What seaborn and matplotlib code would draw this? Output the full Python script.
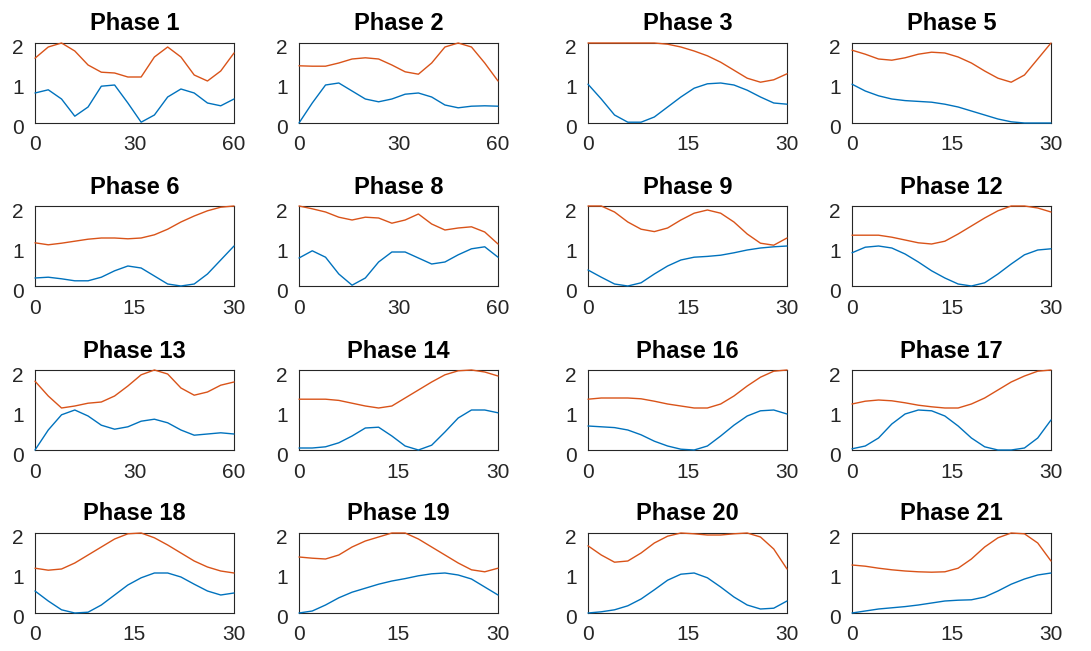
import numpy as np
import pandas as pd
import matplotlib
matplotlib.use("Agg")
import matplotlib.pyplot as plt
import matplotlib.transforms as mtransforms
import seaborn as sns

titles = ["Phase 1", "Phase 2", "Phase 3", "Phase 5",
          "Phase 6", "Phase 8", "Phase 9", "Phase 12",
          "Phase 13", "Phase 14", "Phase 16", "Phase 17",
          "Phase 18", "Phase 19", "Phase 20", "Phase 21"]
x_max = [60, 60, 30, 30,
         30, 60, 30, 30,
         60, 30, 30, 30,
         30, 30, 30, 30]

blue = [
    [0.75, 0.83, 0.6, 0.17, 0.4, 0.92, 0.95, 0.5, 0.02, 0.2, 0.65, 0.85, 0.75, 0.5, 0.43, 0.6],
    [0.0, 0.5, 0.95, 1.0, 0.8, 0.6, 0.53, 0.6, 0.72, 0.75, 0.65, 0.45, 0.38, 0.42, 0.43, 0.42],
    [0.97, 0.6, 0.2, 0.02, 0.02, 0.15, 0.4, 0.65, 0.87, 0.98, 1.0, 0.95, 0.82, 0.65, 0.5, 0.47],
    [0.97, 0.8, 0.68, 0.6, 0.56, 0.54, 0.52, 0.47, 0.4, 0.3, 0.2, 0.1, 0.03, 0.0, 0.0, 0.0],
    [0.2, 0.22, 0.18, 0.13, 0.13, 0.22, 0.38, 0.5, 0.45, 0.25, 0.05, 0.0, 0.05, 0.3, 0.65, 1.0],
    [0.7, 0.88, 0.72, 0.3, 0.02, 0.2, 0.6, 0.85, 0.85, 0.7, 0.55, 0.6, 0.78, 0.93, 0.98, 0.72],
    [0.4, 0.22, 0.05, 0.0, 0.08, 0.3, 0.5, 0.65, 0.72, 0.74, 0.77, 0.83, 0.9, 0.95, 0.98, 1.0],
    [0.83, 0.97, 1.0, 0.95, 0.8, 0.6, 0.38, 0.2, 0.05, 0.0, 0.08, 0.3, 0.55, 0.78, 0.9, 0.93],
    [0.0, 0.5, 0.88, 1.0, 0.85, 0.62, 0.52, 0.58, 0.72, 0.77, 0.68, 0.5, 0.37, 0.4, 0.43, 0.4],
    [0.05, 0.05, 0.08, 0.18, 0.35, 0.55, 0.57, 0.35, 0.1, 0.0, 0.12, 0.45, 0.8, 1.0, 1.0, 0.93],
    [0.6, 0.58, 0.56, 0.5, 0.38, 0.22, 0.1, 0.02, 0.0, 0.1, 0.35, 0.62, 0.85, 0.98, 1.0, 0.9],
    [0.03, 0.1, 0.3, 0.65, 0.9, 1.0, 0.98, 0.85, 0.6, 0.3, 0.08, 0.0, 0.0, 0.05, 0.3, 0.75],
    [0.55, 0.3, 0.08, 0.0, 0.02, 0.2, 0.45, 0.7, 0.88, 1.0, 1.0, 0.9, 0.72, 0.55, 0.45, 0.5],
    [0.0, 0.05, 0.2, 0.38, 0.52, 0.62, 0.72, 0.8, 0.86, 0.93, 0.98, 1.0, 0.95, 0.85, 0.65, 0.45],
    [0.0, 0.03, 0.08, 0.18, 0.35, 0.58, 0.82, 0.97, 1.0, 0.88, 0.65, 0.4, 0.2, 0.1, 0.12, 0.3],
    [0.0, 0.05, 0.1, 0.13, 0.16, 0.2, 0.25, 0.3, 0.32, 0.33, 0.4, 0.55, 0.72, 0.85, 0.95, 1.0],
]

orange = [
    [1.62, 1.9, 2.0, 1.8, 1.45, 1.27, 1.25, 1.15, 1.15, 1.65, 1.9, 1.65, 1.2, 1.05, 1.3, 1.75],
    [1.43, 1.42, 1.42, 1.5, 1.6, 1.63, 1.6, 1.45, 1.28, 1.22, 1.5, 1.9, 2.0, 1.9, 1.5, 1.05],
    [2.0, 2.0, 2.0, 2.0, 2.0, 2.0, 1.97, 1.9, 1.8, 1.68, 1.52, 1.32, 1.12, 1.02, 1.08, 1.23],
    [1.82, 1.72, 1.6, 1.57, 1.63, 1.72, 1.77, 1.75, 1.65, 1.5, 1.3, 1.12, 1.02, 1.2, 1.6, 2.0],
    [1.08, 1.03, 1.07, 1.12, 1.17, 1.2, 1.2, 1.18, 1.2, 1.28, 1.42, 1.6, 1.75, 1.88, 1.97, 2.0],
    [2.0, 1.93, 1.85, 1.72, 1.65, 1.72, 1.7, 1.57, 1.65, 1.8, 1.55, 1.4, 1.45, 1.48, 1.35, 1.05],
    [2.0, 2.0, 1.85, 1.6, 1.42, 1.36, 1.45, 1.65, 1.82, 1.9, 1.82, 1.6, 1.3, 1.07, 1.02, 1.2],
    [1.27, 1.27, 1.27, 1.22, 1.15, 1.08, 1.05, 1.12, 1.3, 1.5, 1.7, 1.88, 2.0, 2.0, 1.95, 1.85],
    [1.72, 1.35, 1.05, 1.1, 1.17, 1.2, 1.35, 1.6, 1.88, 2.0, 1.9, 1.55, 1.37, 1.45, 1.62, 1.7],
    [1.27, 1.27, 1.27, 1.24, 1.17, 1.1, 1.05, 1.1, 1.3, 1.5, 1.7, 1.88, 1.98, 2.0, 1.95, 1.85],
    [1.27, 1.3, 1.3, 1.3, 1.28, 1.22, 1.15, 1.1, 1.05, 1.05, 1.15, 1.35, 1.6, 1.82, 1.97, 2.0],
    [1.15, 1.22, 1.25, 1.23, 1.18, 1.12, 1.08, 1.05, 1.05, 1.15, 1.3, 1.5, 1.7, 1.85, 1.97, 2.0],
    [1.12, 1.07, 1.1, 1.25, 1.45, 1.65, 1.85, 1.98, 2.0, 1.88, 1.7, 1.5, 1.3, 1.15, 1.05, 1.0],
    [1.4, 1.37, 1.35, 1.45, 1.65, 1.8, 1.9, 2.0, 2.0, 1.85, 1.65, 1.45, 1.25, 1.08, 1.03, 1.12],
    [1.68, 1.45, 1.27, 1.3, 1.5, 1.75, 1.92, 2.0, 1.98, 1.95, 1.95, 1.98, 2.0, 1.9, 1.6, 1.1],
    [1.2, 1.17, 1.12, 1.08, 1.05, 1.03, 1.02, 1.03, 1.12, 1.35, 1.65, 1.88, 2.0, 1.98, 1.75, 1.3],
]

BLUE = (0.0, 0.447, 0.741)
ORANGE = (0.85, 0.325, 0.098)
GREY = (0.15, 0.15, 0.15)

sns.set_style("white")
plt.rcParams['font.family'] = ['Liberation Sans', 'DejaVu Sans']

fig = plt.figure(figsize=(10.91, 6.51), dpi=100)

lefts = [35, 299, 588, 852]
tops = [43, 206, 370, 533]
W, H = 199, 80
shift = mtransforms.ScaledTranslation(0, -4 / 100, fig.dpi_scale_trans)

for i, title in enumerate(titles):
    r, c = divmod(i, 4)
    ax = fig.add_axes([lefts[c] / 1091, 1 - (tops[r] + H) / 651, W / 1091, H / 651])
    n = len(blue[i])
    xs = np.linspace(0, x_max[i], n)
    df = pd.DataFrame({"t": np.concatenate([xs, xs]),
                       "v": np.concatenate([blue[i], orange[i]]),
                       "s": ["b"] * n + ["o"] * n})
    sns.lineplot(data=df, x="t", y="v", hue="s", palette={"b": BLUE, "o": ORANGE},
                 ax=ax, legend=False, linewidth=1.0)
    for ln in ax.get_lines():
        ln.set_zorder(3)
        ln.set_clip_on(False)
    ax.set_xlim(0, x_max[i])
    ax.set_ylim(0, 2)
    ax.set_xticks([0, x_max[i] / 2, x_max[i]])
    ax.set_xticklabels([str(int(v)) for v in [0, x_max[i] / 2, x_max[i]]])
    ax.set_yticks([0, 1, 2])
    ax.set_xlabel("")
    ax.set_ylabel("")
    ax.tick_params(direction="in", length=3, width=0.6, labelsize=15,
                   colors=GREY)
    ax.tick_params(axis="x", pad=9)
    ax.tick_params(axis="y", pad=8)
    for lab in ax.get_yticklabels():
        lab.set_transform(lab.get_transform() + shift)
    for sp in ax.spines.values():
        sp.set_visible(True)
        sp.set_color(GREY)
        sp.set_linewidth(0.8)
    ax.set_title(title, fontsize=17, fontweight="bold", pad=9, color="black")

fig.savefig("out.png", dpi=100)
